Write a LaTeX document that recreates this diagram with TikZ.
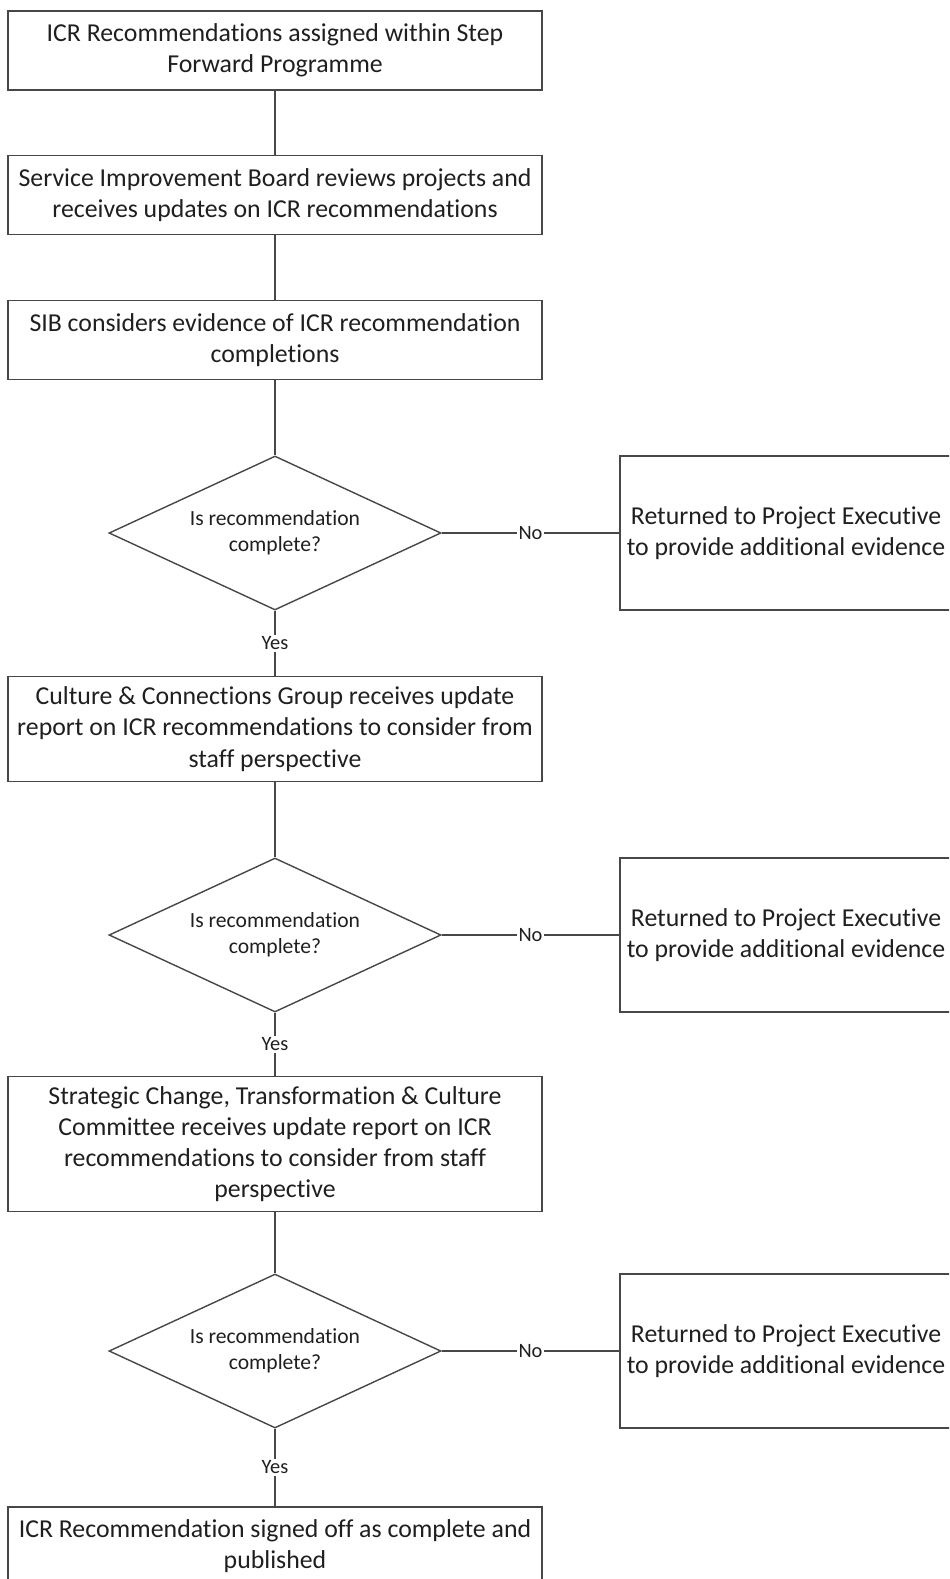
\documentclass[tikz,border=0pt]{standalone}
\usepackage{fontspec}
\setmainfont[Ligatures=NoCommon]{Carlito}
\usetikzlibrary{shapes.geometric}
\tikzset{
  stroke/.style={draw=black!72, line width=0.7pt},
  procbox/.style={stroke, rectangle, minimum width=267pt, inner sep=2pt, align=center,
    font=\fontsize{12.9}{15.6}\selectfont, text=black!88},
  retbox/.style={stroke, rectangle, minimum width=166pt, minimum height=77pt, inner sep=2pt, align=center,
    font=\fontsize{12.9}{15.3}\selectfont, text=black!88},
  decision/.style={stroke, diamond, aspect=2.156, minimum width=166pt, minimum height=77pt, inner sep=0pt, align=center,
    font=\fontsize{10.8}{13.1}\selectfont, text=black!88},
  lbl/.style={fill=white, inner sep=1pt, font=\fontsize{10.2}{12}\selectfont, text=black!88},
  conn/.style={draw=black!72, line width=0.7pt}
}
\begin{document}
\begin{tikzpicture}[x=0.5pt,y=-0.5pt]
\useasboundingbox (0,0) rectangle (949,1579);
\clip (0,0) rectangle (949,1579);
\node[procbox, minimum height=39.5pt] (b1) at (275,50.5) {ICR Recommendations assigned within Step\\Forward Programme};
\node[procbox, minimum height=39.5pt] (b2) at (275,195) {Service Improvement Board reviews projects and\\receives updates on ICR recommendations};
\node[procbox, minimum height=39.5pt] (b3) at (275,340) {SIB considers evidence of ICR recommendation\\completions};
\node[decision] (d1) at (275,533) {Is recommendation\\complete?};
\node[retbox] (r1) at (786,533) {Returned to Project Executive\\to provide additional evidence};
\node[procbox, minimum height=52.5pt] (b4) at (275,729) {Culture \& Connections Group receives update\\report on ICR recommendations to consider from\\staff perspective};
\node[decision] (d2) at (275,935) {Is recommendation\\complete?};
\node[retbox] (r2) at (786,935) {Returned to Project Executive\\to provide additional evidence};
\node[procbox, minimum height=67.5pt] (b5) at (275,1144) {Strategic Change, Transformation \& Culture\\Committee receives update report on ICR\\recommendations to consider from staff\\perspective};
\node[decision] (d3) at (275,1351) {Is recommendation\\complete?};
\node[retbox] (r3) at (786,1351) {Returned to Project Executive\\to provide additional evidence};
\node[procbox, minimum height=39.5pt] (b6) at (275,1546.5) {ICR Recommendation signed off as complete and\\published};

\draw[conn] (b1) -- (b2);
\draw[conn] (b2) -- (b3);
\draw[conn] (b3) -- (d1);
\draw[conn] (d1) -- node[lbl] (n1) {No} (r1);
\draw[conn] (d1) -- node[lbl] (y1) {Yes} (b4);
\draw[conn] (b4) -- (d2);
\draw[conn] (d2) -- node[lbl] (n2) {No} (r2);
\draw[conn] (d2) -- node[lbl] (y2) {Yes} (b5);
\draw[conn] (b5) -- (d3);
\draw[conn] (d3) -- node[lbl] (n3) {No} (r3);
\draw[conn] (d3) -- node[lbl] (y3) {Yes} (b6);
\end{tikzpicture}
\end{document}
